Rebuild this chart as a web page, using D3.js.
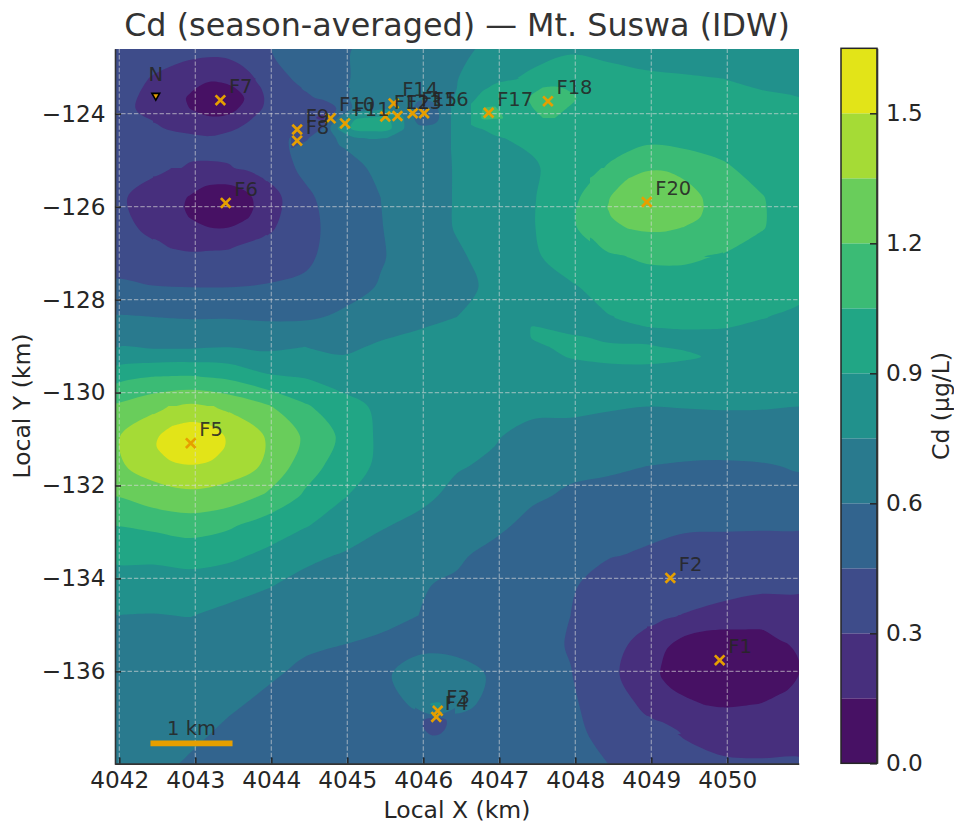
<!DOCTYPE html>
<html>
<head>
<meta charset="utf-8">
<script src="https://cdn.jsdelivr.net/npm/d3@7"></script>
<style>
html, body { margin: 0; padding: 0; background: #fff; }
svg { display: block; font-family: "DejaVu Sans", sans-serif; }
</style>
</head>
<body>
<div id="chart"></div>
<script>
var wellNames = ["F1","F2","F3","F4","F5","F6","F7","F8","F9","F10","F11","F12","F13","F14","F15","F16","F17","F18","F20"]
var wellX = [4049.90,4049.25,4046.19,4046.17,4042.94,4043.40,4043.33,4044.34,4044.34,4044.78,4044.97,4045.50,4045.66,4045.61,4045.86,4046.01,4046.86,4047.64,4048.94]
var wellY = [-135.76,-133.99,-136.85,-136.98,-131.09,-125.92,-123.71,-124.58,-124.34,-124.10,-124.21,-124.06,-124.05,-123.78,-123.99,-123.99,-123.98,-123.73,-125.90]

var levels = [0,0.15,0.3,0.45,0.6,0.75,0.9,1.05,1.2,1.35,1.5]
var xTicks = [4042,4043,4044,4045,4046,4047,4048,4049,4050]
var yTicks = [-136,-134,-132,-130,-128,-126,-124]
var barTicks = [0,0.3,0.6,0.9,1.2,1.5]

// Cd, top row first, every 0.5 km across
var cdRows = [
	[.41,.38,.36,.37,.44,.51,.59,.63,.68,.72,.78,.84,.88,.875,.86,.84,.82,.80,.79],
	[.38,.29,.2,.17,.36,.5,.59,.64,.7,.745,.86,.93,.98,.93,.915,.91,.9,.87,.85],
	[.36,.25,.15,.10,.33,.38,.6,.68,.7,.76,1.0,1.0,1.0,.99,.97,.96,.96,.95,.93],
	[.42,.37,.34,.36,.42,.47,.62,.72,.7,.76,.89,.93,.97,1.0,1.01,1.01,.99,.97,.95],
	[.37,.33,.29,.29,.36,.48,.55,.63,.68,.76,.84,.88,.98,1.06,1.18,1.12,1.07,1.0,.96],
	[.33,.24,.14,.05,.22,.42,.53,.6,.68,.76,.84,.89,1.0,1.21,1.28,1.25,1.13,1.06,.97],
	[.36,.26,.155,.14,.27,.40,.52,.595,.67,.76,.83,.89,1.03,1.15,1.21,1.17,1.12,1.06,.98],
	[.4,.36,.32,.34,.38,.43,.5,.59,.66,.73,.8,.88,.96,1.03,1.07,1.07,1.04,.99,.96],
	[.47,.455,.45,.45,.46,.47,.55,.61,.66,.71,.78,.84,.885,.95,.98,.99,.97,.95,.93],
	[.61,.6,.59,.59,.58,.58,.62,.67,.72,.75,.79,.84,.86,.895,.93,.94,.92,.905,.88],
	[.74,.73,.73,.745,.72,.75,.72,.77,.79,.82,.82,.885,.92,.91,.905,.89,.875,.865,.855],
	[.99,1.05,1.06,1.02,.92,.89,.83,.81,.82,.83,.85,.86,.86,.85,.85,.85,.84,.83,.83],
	[1.22,1.31,1.38,1.32,1.22,1.07,.96,.87,.81,.79,.78,.78,.78,.76,.75,.755,.76,.76,.75],
	[1.33,1.47,1.6,1.48,1.34,1.18,1.02,.87,.79,.77,.76,.71,.7,.7,.68,.68,.68,.67,.66],
	[1.32,1.42,1.49,1.43,1.33,1.12,.98,.87,.81,.76,.73,.68,.63,.62,.6,.585,.58,.59,.61],
	[1.2,1.28,1.31,1.28,1.18,1.03,.91,.83,.78,.72,.68,.62,.58,.56,.55,.55,.55,.55,.56],
	[1.05,1.08,1.12,1.07,.98,.91,.83,.76,.72,.67,.63,.56,.51,.49,.47,.46,.46,.46,.46],
	[.93,.93,.95,.93,.87,.78,.74,.7,.66,.62,.56,.52,.49,.455,.44,.42,.41,.4,.4],
	[.83,.83,.84,.81,.76,.71,.68,.65,.61,.58,.54,.5,.46,.41,.38,.36,.335,.32,.32],
	[.75,.745,.755,.71,.68,.65,.62,.63,.6,.56,.52,.48,.45,.39,.33,.295,.27,.25,.25],
	[.69,.68,.67,.65,.63,.61,.6,.58,.57,.56,.51,.5,.44,.34,.26,.14,.09,.1,.16],
	[.68,.67,.65,.63,.61,.585,.56,.575,.66,.66,.58,.51,.455,.34,.2,.1,.05,.08,.13],
	[.67,.65,.63,.61,.585,.56,.54,.55,.62,.63,.57,.52,.47,.38,.27,.18,.14,.16,.2],
	[.66,.64,.615,.585,.56,.545,.53,.525,.52,.53,.52,.5,.475,.42,.35,.29,.25,.26,.27],
	[.65,.62,.59,.57,.55,.53,.52,.51,.505,.5,.5,.49,.47,.45,.39,.35,.32,.31,.31]
]

// finer readings where the wells sit close together or a peak is small
var clusterRows = [
	[.42,.465,.52,.577,.61,.638,.66,.68,.70,.72,.744],
	[.41,.43,.47,.56,.62,.65,.67,.68,.62,.63,.745],
	[.41,.40,.36,.47,.63,.68,.72,.70,.55,.57,.75],
	[.38,.34,.27,.62,.89,.91,.92,.76,.53,.55,.75],
	[.36,.39,.45,.78,.95,.97,.96,.76,.63,.64,.75],
	[.42,.44,.52,.62,.74,.76,.75,.70,.68,.69,.75],
	[.444,.48,.53,.59,.625,.667,.69,.69,.69,.72,.75]
]
var southRows = [
	[.63,.635,.64,.64,.64,.635],
	[.615,.66,.76,.78,.66,.63],
	[.58,.60,.70,.72,.60,.57],
	[.55,.46,.36,.34,.46,.55],
	[.54,.46,.33,.36,.47,.54],
	[.53,.52,.47,.47,.52,.53],
	[.52,.52,.515,.515,.52,.52]
]
var northRows = [
	[.79,.82,.86,.88,.90,.93,.94,.96,.975,.97,.955],
	[.82,.88,.93,.95,.97,1.0,1.055,1.065,1.04,1.0,.98],
	[.86,.95,.99,.98,1.0,1.07,1.12,1.14,1.09,1.04,1.0],
	[.93,1.05,1.06,.99,.99,1.04,1.1,1.1,1.05,1.01,.99],
	[.93,1.07,1.06,1.045,1.0,1.0,1.05,1.05,1.02,.99,.98],
	[.885,.91,.93,.95,.96,.96,.97,.97,.97,.97,.975],
	[.80,.84,.89,.905,.915,.93,.94,.95,.965,.975,.985]
]
var midRows = [
	[.79,.84,.86,.895,.93,.94,.92,.905,.88],
	[.80,.905,.87,.875,.9,.905,.905,.885,.87],
	[.81,.905,.91,.885,.885,.885,.875,.87,.86],
	[.82,.885,.92,.91,.905,.89,.875,.865,.855],
	[.83,.87,.905,.93,.93,.915,.88,.86,.85],
	[.84,.86,.875,.885,.89,.875,.855,.85,.84],
	[.85,.86,.86,.85,.85,.85,.84,.83,.83]
]
var f5Rows = [
	[1.31,1.36,1.38,1.36,1.32],
	[1.36,1.42,1.46,1.42,1.37],
	[1.42,1.5,1.53,1.51,1.43],
	[1.47,1.56,1.6,1.57,1.48],
	[1.48,1.58,1.62,1.58,1.48],
	[1.45,1.53,1.56,1.53,1.45],
	[1.42,1.47,1.49,1.47,1.43]
]
var f7Rows = [
	[.29,.25,.2,.17,.2,.26,.36],
	[.26,.22,.165,.11,.12,.2,.34],
	[.25,.21,.13,.07,.06,.17,.32],
	[.26,.22,.145,.09,.1,.2,.33],
	[.285,.25,.2,.165,.18,.28,.36],
	[.32,.285,.255,.26,.27,.33,.38],
	[.37,.34,.33,.31,.35,.39,.42]
]
var f6Rows = [
	[.33,.3,.29,.285,.29,.32,.36],
	[.295,.26,.245,.215,.215,.25,.315],
	[.27,.23,.185,.125,.12,.175,.27],
	[.25,.205,.135,.07,.055,.125,.23],
	[.24,.2,.125,.06,.055,.12,.22],
	[.25,.205,.145,.09,.09,.145,.235],
	[.27,.23,.19,.15,.15,.2,.27],
	[.295,.265,.245,.215,.225,.27,.31],
	[.33,.295,.285,.285,.29,.33,.36],
	[.36,.34,.32,.33,.34,.36,.38]
]
var f20Rows = [
	[1.0,1.08,1.14,1.18,1.18,1.14,1.11,1.08],
	[1.05,1.12,1.195,1.24,1.24,1.19,1.14,1.1],
	[1.09,1.16,1.24,1.29,1.28,1.23,1.17,1.12],
	[1.12,1.195,1.27,1.33,1.31,1.26,1.195,1.13],
	[1.13,1.205,1.27,1.33,1.31,1.26,1.2,1.13],
	[1.12,1.19,1.25,1.29,1.28,1.24,1.19,1.12],
	[1.1,1.16,1.205,1.23,1.225,1.195,1.15,1.11],
	[1.05,1.12,1.15,1.16,1.16,1.13,1.11,1.09],
	[1.02,1.07,1.09,1.1,1.1,1.09,1.07,1.06],
	[1.0,1.03,1.05,1.07,1.07,1.07,1.05,1.04]
]
var f1Rows = [
	[.33,.31,.295,.285,.27,.25,.25,.25,.25],
	[.29,.27,.17,.155,.145,.145,.145,.18,.2],
	[.26,.16,.12,.09,.075,.08,.095,.135,.165],
	[.225,.135,.09,.06,.05,.055,.08,.11,.15],
	[.2,.13,.09,.06,.05,.06,.08,.11,.15],
	[.23,.165,.125,.09,.08,.085,.105,.135,.17],
	[.27,.23,.18,.15,.14,.145,.155,.185,.2],
	[.31,.285,.23,.215,.195,.2,.21,.23,.235],
	[.35,.34,.29,.27,.25,.25,.26,.27,.27]
]

var width = 954, height = 825
var x = d3.scaleLinear().domain([4041.94,4050.94]).range([114.74,798.74])
var y = d3.scaleLinear().domain([-138,-122.6]).range([764.3,48.64])
var barY = d3.scaleLinear().domain([0,1.65]).range([763.3,48.3])
var bandColor = function(i) { return d3.interpolateViridis((i + 0.5) / levels.length) }

var svg = d3.select("#chart").append("svg").attr("width",width).attr("height",height)
var defs = svg.append("defs")
var plot = svg.append("g")

var fieldId = 0
function drawField(rows, x0, dx, y0, dy) {
	var cols = rows[0].length
	var contours = d3.contours().size([cols,rows.length]).thresholds(levels)(d3.merge(rows))
	var ring = d3.line()
		.x(function(p) { return x(x0 + (p[0] - 0.5) * dx) })
		.y(function(p) { return y(y0 + (p[1] - 0.5) * dy) })
		.curve(d3.curveCatmullRomClosed.alpha(0.5))
	var id = "field" + (fieldId++)
	// whole pixels, otherwise every layer bleeds through the clip edge
	var left = Math.round(x(x0)), top = Math.round(y(y0))
	defs.append("clipPath").attr("id",id).append("rect")
		.attr("x",left).attr("y",top)
		.attr("width",Math.round(x(x0 + (cols - 1) * dx)) - left)
		.attr("height",Math.round(y(y0 + (rows.length - 1) * dy)) - top)
	plot.append("g").attr("clip-path","url(#" + id + ")").selectAll("path").data(contours).enter().append("path")
		.attr("d",function(d) {
			return d.coordinates.map(function(poly) {
				return poly.map(function(r) { return ring(r.slice(0,-1)) }).join("")
			}).join("")
		})
		.attr("fill",function(d,i) { return bandColor(i) })
}

var rowKm = 15.4 / 24
drawField(cdRows, 4041.94, 0.5, -122.6, -rowKm)
drawField(midRows, 4046.94, 0.5, -122.6 - 9 * rowKm, -rowKm / 3)
drawField(clusterRows, 4044.259, 16 / 76, -123.447, -10 / 46.47)
drawField(northRows, 4046.628, 12 / 76, -123.232, -10 / 46.47)
drawField(southRows, 4045.891, 8 / 76, -136.531, -8 / 46.47)
drawField(f5Rows, 4042.44, 0.25, -122.6 - 12 * rowKm, -rowKm / 3)
drawField(f7Rows, 4042.44, 0.25, -122.6 - rowKm, -rowKm / 3)
drawField(f6Rows, 4042.44, 0.25, -122.6 - 4 * rowKm, -rowKm / 3)
drawField(f20Rows, 4048.19, 0.25, -122.6 - 4 * rowKm, -rowKm / 3)
drawField(f1Rows, 4048.94, 0.25, -122.6 - 19 * rowKm, -rowKm / 2)

// dashed grid
var grid = svg.append("g").attr("stroke","#d8d8d8").attr("stroke-opacity",0.55).attr("stroke-width",1.2).attr("stroke-dasharray","4.4,2")
grid.selectAll(".gx").data(xTicks).enter().append("line")
	.attr("x1",x).attr("x2",x).attr("y1",y.range()[1]).attr("y2",y.range()[0])
grid.selectAll(".gy").data(yTicks).enter().append("line")
	.attr("y1",y).attr("y2",y).attr("x1",x.range()[0]).attr("x2",x.range()[1])

function styleAxis(g) {
	g.selectAll("text").attr("font-size",23.2).attr("font-family","DejaVu Sans").attr("fill","#262626")
	g.selectAll("line").attr("stroke","#262626").attr("stroke-width",1.5)
	g.selectAll(".domain").attr("stroke","#333").attr("stroke-width",1.6)
}
svg.append("g").attr("transform","translate(0,763.6)")
	.call(d3.axisBottom(x).tickValues(xTicks).tickFormat(d3.format("d")).tickSizeInner(-6).tickSizeOuter(0).tickPadding(8))
	.call(styleAxis)
svg.append("g").attr("transform","translate(115,0)")
	.call(d3.axisLeft(y).tickValues(yTicks).tickFormat(d3.format("d")).tickSizeInner(-6).tickSizeOuter(0).tickPadding(9.5))
	.call(styleAxis)

// wells
svg.append("g").selectAll("path").data(wellNames).enter().append("path")
	.attr("d",d3.symbol(d3.symbolTimes,62))
	.attr("transform",function(d,i) { return "translate(" + x(wellX[i]) + "," + y(wellY[i]) + ")" })
	.attr("fill","none").attr("stroke","#e69f00").attr("stroke-width",2.7)
svg.append("g").selectAll("text").data(wellNames).enter().append("text")
	.attr("x",function(d,i) { return x(wellX[i]) + 8.5 })
	.attr("y",function(d,i) { return y(wellY[i]) - 7 })
	.attr("font-size",19.5).attr("fill","#262626").attr("fill-opacity",0.9)
	.text(function(d) { return d })

// north arrow
svg.append("path").attr("d",d3.symbol(d3.symbolTriangle,26))
	.attr("transform","translate(" + x(4042.48) + "," + y(-123.61) + ") rotate(180)")
	.attr("fill","#e69f00").attr("stroke","#000").attr("stroke-width",1.6)
svg.append("text").attr("x",x(4042.48)).attr("y",y(-123.29)).attr("text-anchor","middle")
	.attr("font-size",19.5).attr("fill","#262626").attr("fill-opacity",0.9).text("N")

// scale bar
svg.append("line").attr("x1",x(4042.41)).attr("x2",x(4043.49)).attr("y1",y(-137.55)).attr("y2",y(-137.55))
	.attr("stroke","#e69f00").attr("stroke-width",5.6)
svg.append("text").attr("x",x(4042.95)).attr("y",y(-137.36)).attr("text-anchor","middle")
	.attr("font-size",19.5).attr("fill","#262626").attr("fill-opacity",0.9).text("1 km")

// colorbar
var bar = svg.append("g")
bar.selectAll("rect").data(levels).enter().append("rect")
	.attr("x",841).attr("width",36)
	.attr("y",function(d,i) { return barY(i + 1 < levels.length ? levels[i + 1] : 1.65) })
	.attr("height",function(d,i) { return barY(d) - barY(i + 1 < levels.length ? levels[i + 1] : 1.65) })
	.attr("fill",function(d,i) { return bandColor(i) })
svg.append("g").attr("transform","translate(877,0)")
	.call(d3.axisRight(barY).tickValues(barTicks).tickFormat(d3.format(".1f")).tickSizeInner(-7).tickSizeOuter(0).tickPadding(9))
	.call(styleAxis)
bar.append("rect").attr("x",841).attr("y",48.3).attr("width",36).attr("height",715)
	.attr("fill","none").attr("stroke","#262626").attr("stroke-width",1.5)

// titles
svg.append("text").attr("x",457).attr("y",36).attr("text-anchor","middle")
	.attr("font-size",31.8).attr("fill","#333").text("Cd (season-averaged) — Mt. Suswa (IDW)")
svg.append("text").attr("x",457).attr("y",818).attr("text-anchor","middle")
	.attr("font-size",23.5).attr("fill","#262626").text("Local X (km)")
svg.append("text").attr("transform","translate(30,406) rotate(-90)").attr("text-anchor","middle")
	.attr("font-size",23.5).attr("fill","#262626").text("Local Y (km)")
svg.append("text").attr("transform","translate(949,406) rotate(-90)").attr("text-anchor","middle")
	.attr("font-size",23.5).attr("fill","#262626").text("Cd (µg/L)")
</script>
</body>
</html>
